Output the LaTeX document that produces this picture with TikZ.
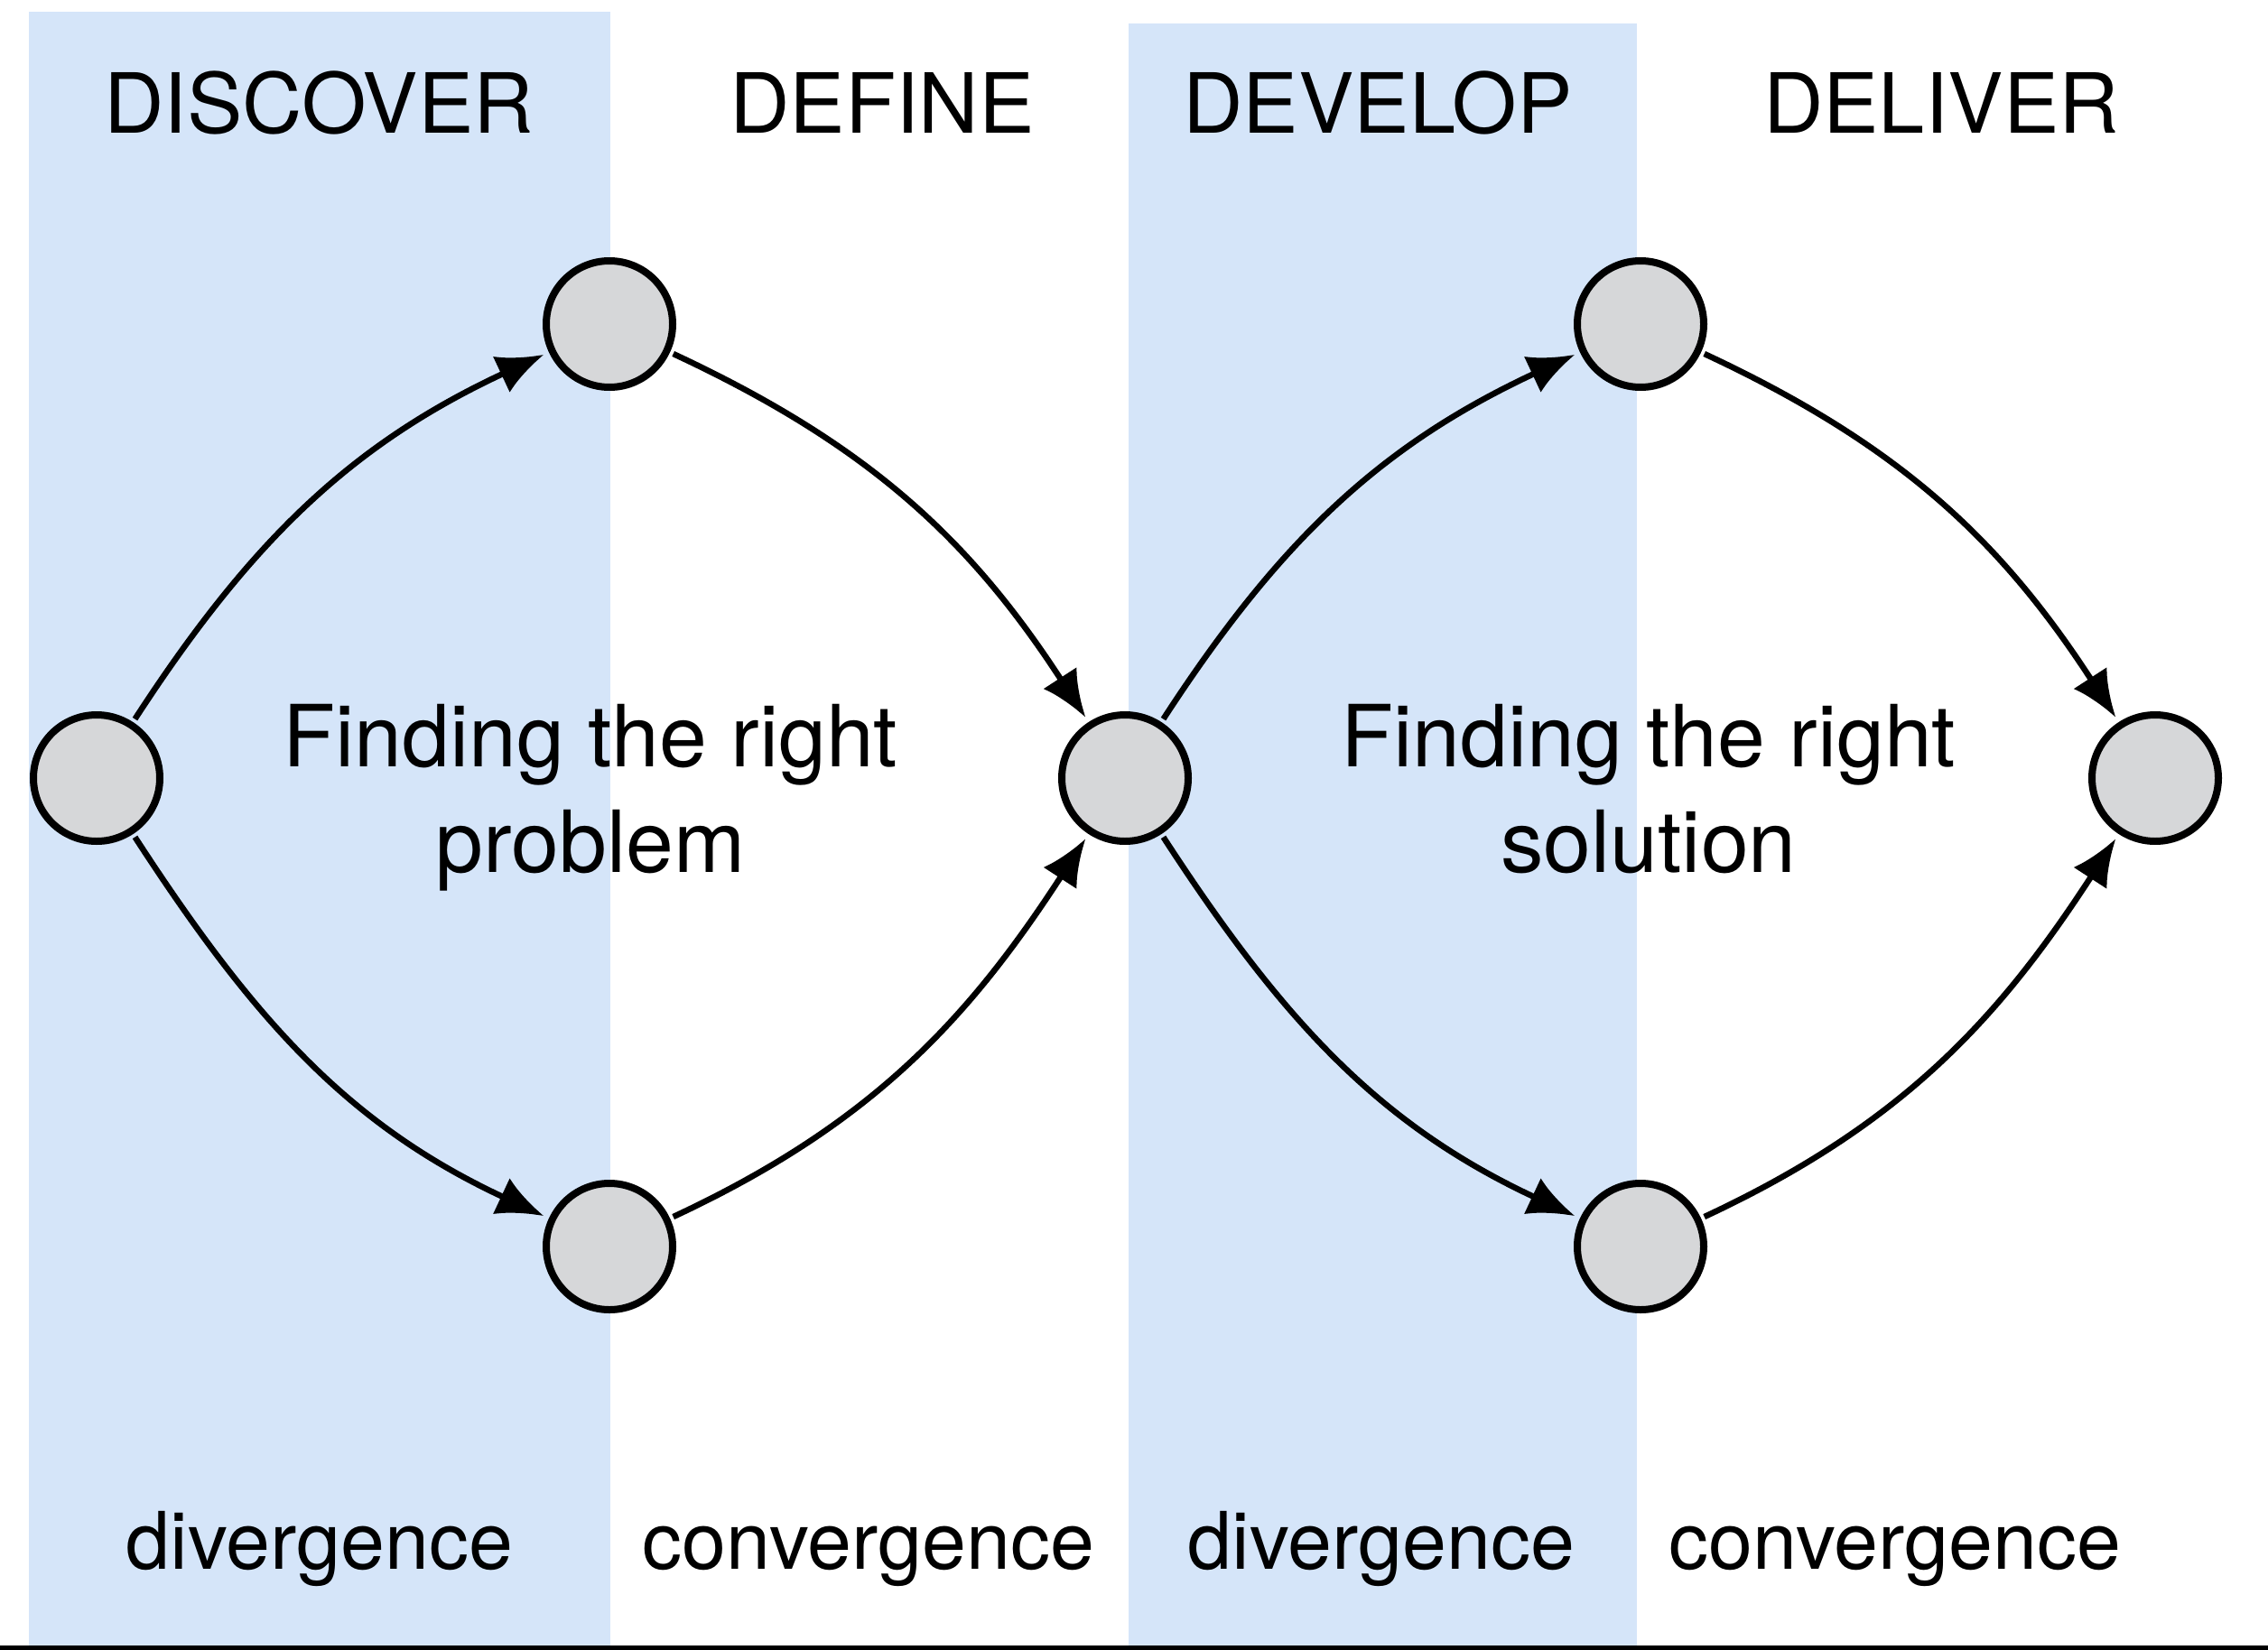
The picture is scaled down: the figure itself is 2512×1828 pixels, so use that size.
\documentclass[tikz,border=0pt]{standalone}
\usepackage{fontspec}
\setmainfont{TeX Gyre Heros}
\usetikzlibrary{arrows.meta,shadows}
\definecolor{band}{RGB}{213,229,249}
\definecolor{nodegray}{RGB}{214,215,217}
\definecolor{baseline}{RGB}{26,30,36}
\begin{document}
\begin{tikzpicture}[x=1pt,y=-1pt,
  stage/.style={circle,draw=black,line width=8pt,fill=nodegray,minimum size=140pt,inner sep=0pt,
     drop shadow={shadow xshift=2pt,shadow yshift=-4pt,opacity=0.25}},
  flow/.style={line width=6.5pt,-{Latex[length=52pt,width=44pt]},shorten >=6pt,shorten <=4pt},
  head/.style={font=\fontsize{92}{110}\selectfont,anchor=base,inner sep=0pt},
  mode/.style={font=\fontsize{88}{106}\selectfont,anchor=base,inner sep=0pt},
  goal/.style={font=\fontsize{95}{117}\selectfont,anchor=base,inner sep=0pt}]
\useasboundingbox (0,0) rectangle (2512,1828);
\fill[white] (0,0) rectangle (2512,1828);
% bands
\fill[band] (32,13) rectangle (676,1823);
\fill[band] (1250,26) rectangle (1813,1823);
\fill[baseline] (0,1823) rectangle (2512,1828);
% headings
\node[head] (hdiscover) at (353,147) {DISCOVER};
\node[head] (hdefine) at (977,147) {DEFINE};
\node[head] (hdevelop) at (1526,147) {DEVELOP};
\node[head] (hdeliver) at (2150,147) {DELIVER};
% bottom labels
\node[mode] (m1) at (354,1738) {divergence};
\node[mode] (m2) at (962,1738) {convergence};
\node[mode] (m3) at (1530,1738) {divergence};
\node[mode] (m4) at (2099,1738) {convergence};
% center texts
\node[goal] (g1a) at (654,849) {Finding the right};
\node[goal] (g1b) at (654,966) {problem};
\node[goal] (g2a) at (1826,849) {Finding the right};
\node[goal] (g2b) at (1826,966) {solution};
% stages
\node[stage] (L) at (107,862) {};
\node[stage] (T1) at (675,359) {};
\node[stage] (B1) at (675,1381) {};
\node[stage] (M) at (1246,862) {};
\node[stage] (T2) at (1817,359) {};
\node[stage] (B2) at (1817,1381) {};
\node[stage] (R) at (2387,862) {};
% connectors
\draw[flow] (L) to[out=57,in=205] (T1);
\draw[flow] (T1) to[out=-25,in=123] (M);
\draw[flow] (L) to[out=-57,in=155] (B1);
\draw[flow] (B1) to[out=25,in=237] (M);
\draw[flow] (M) to[out=57,in=205] (T2);
\draw[flow] (T2) to[out=-25,in=123] (R);
\draw[flow] (M) to[out=-57,in=155] (B2);
\draw[flow] (B2) to[out=25,in=237] (R);
\end{tikzpicture}
\end{document}
